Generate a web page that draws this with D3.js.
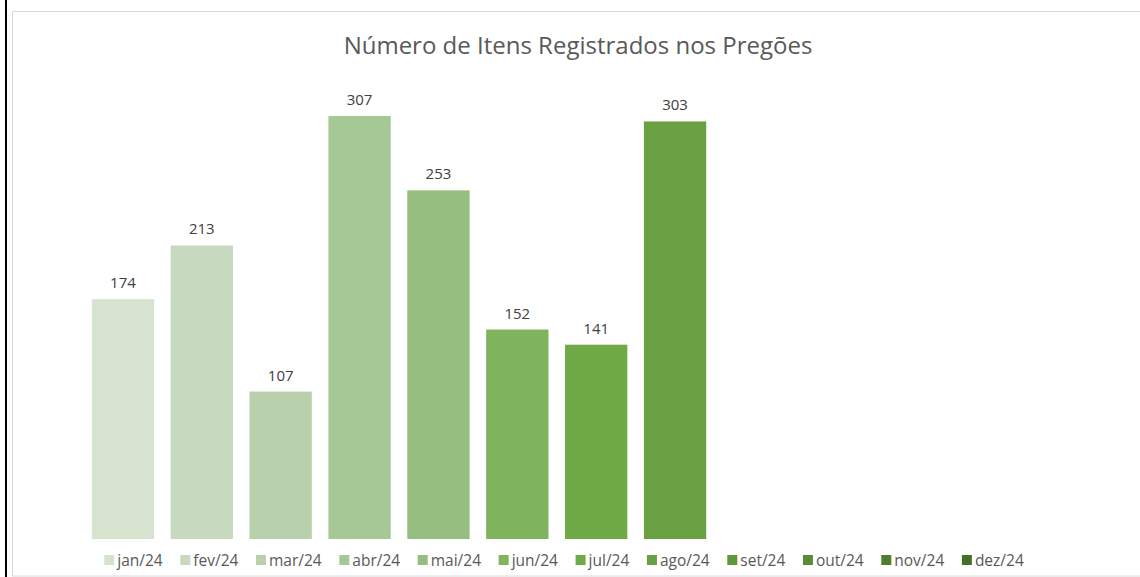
<!DOCTYPE html>
<html>
<head>
<meta charset="utf-8">
<script src="https://cdn.jsdelivr.net/npm/d3@7"></script>
<style>
  body { margin: 0; background: #fff; }
  text { font-family: "Open Sans", "Noto Sans", sans-serif; }
</style>
</head>
<body>
<div id="chart"></div>
<script>
const width = 1140;
const height = 577;

// data
var months = ["jan/24", "fev/24", "mar/24", "abr/24", "mai/24", "jun/24",
              "jul/24", "ago/24", "set/24", "out/24", "nov/24", "dez/24"];
var itens = [174, 213, 107, 307, 253, 152, 141, 303, null, null, null, null];
var colors = ["#d6e3cf", "#c7dabf", "#b8d1ac", "#a6c896", "#96be80", "#7fb35c",
              "#70aa46", "#68a042", "#5f983b", "#578b35", "#4f7e2f", "#466f29"];

var svg = d3.select("#chart").append("svg")
  .attr("width", width)
  .attr("height", height);

// black rule on the far left
svg.append("rect")
  .attr("x", 5).attr("y", 0)
  .attr("width", 2).attr("height", height)
  .attr("fill", "#000");

// chart frame
svg.append("rect")
  .attr("x", 12.5).attr("y", 11.5)
  .attr("width", 1140).attr("height", 564.5)
  .attr("fill", "#fff")
  .attr("stroke", "#d9d9d9")
  .attr("stroke-width", 1);

svg.append("text")
  .attr("x", 578).attr("y", 54)
  .attr("text-anchor", "middle")
  .attr("font-size", 24)
  .attr("fill", "#595959")
  .text("Número de Itens Registrados nos Pregões");

var x = d3.scaleBand()
  .domain(months)
  .range([83.5, 1030])
  .paddingInner(0.21)
  .paddingOuter(0.105);

var y = d3.scaleLinear()
  .domain([0, 350])
  .range([539, 56.7]);

var data = months.map(function (m, i) {
  return {month: m, value: itens[i], color: colors[i]};
});
var shown = data.filter(function (d) { return d.value != null; });

svg.selectAll(".bar")
  .data(shown)
  .enter().append("rect")
  .attr("class", "bar")
  .attr("x", function (d) { return x(d.month); })
  .attr("width", x.bandwidth())
  .attr("y", function (d) { return y(d.value); })
  .attr("height", function (d) { return y(0) - y(d.value); })
  .attr("fill", function (d) { return d.color; });

svg.selectAll(".label")
  .data(shown)
  .enter().append("text")
  .attr("class", "label")
  .attr("x", function (d) { return x(d.month) + x.bandwidth() / 2; })
  .attr("y", function (d) { return y(d.value) - 11; })
  .attr("text-anchor", "middle")
  .attr("font-size", 15)
  .attr("fill", "#404040")
  .text(function (d) { return d.value; });

// legend, laid out from measured text widths and centred
var legend = svg.append("g");
var items = legend.selectAll("g")
  .data(data)
  .enter().append("g");

items.append("rect")
  .attr("width", 10).attr("height", 10)
  .attr("y", -10)
  .attr("fill", function (d) { return d.color; });

items.append("text")
  .attr("x", 13)
  .attr("y", 0.5)
  .attr("font-size", 15.5)
  .attr("fill", "#595959")
  .text(function (d) { return d.month; });

var pos = 0;
var gap = 17.6;
items.each(function () {
  var w = d3.select(this).select("text").node().getComputedTextLength();
  d3.select(this).attr("transform", "translate(" + pos + ",0)");
  pos += 13 + w + gap;
});
var total = pos - gap;
legend.attr("transform", "translate(" + (564 - total / 2) + ",565)");
</script>
</body>
</html>
